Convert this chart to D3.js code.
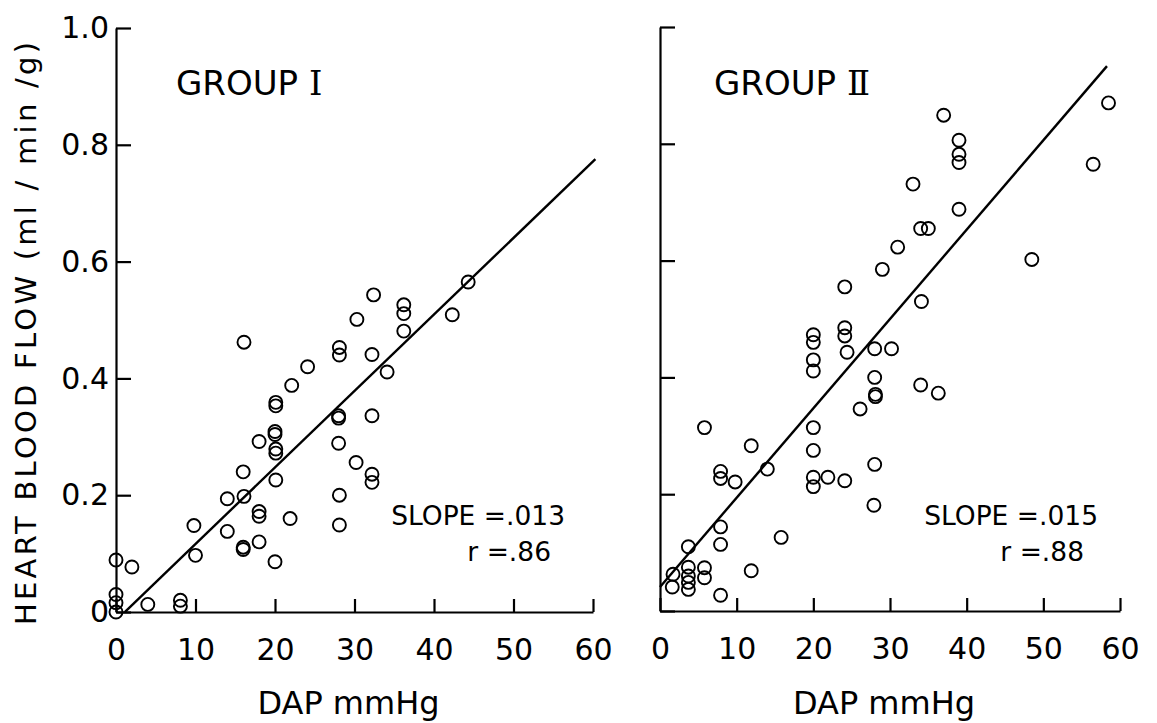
<!DOCTYPE html>
<html>
<head>
<meta charset="utf-8">
<script src="https://cdn.jsdelivr.net/npm/d3@7"></script>
<style>
  body { margin: 0; background: #fff; }
  svg { display: block; }
  text { font-family: 'DejaVu Sans', sans-serif; fill: #000; }
</style>
</head>
<body>
<div id="chart"></div>
<script>
// tick values / labels
let xTicks = [0, 10, 20, 30, 40, 50, 60]
let yTicks = [0, 0.2, 0.4, 0.6, 0.8, 1.0]
let yTickLabels = ['0', '0.2', '0.4', '0.6', '0.8', '1.0']

// group I: DAP (mmHg) vs heart blood flow (ml/min/g)
let dapI = [44.3, 32.4, 36.2, 36.2, 42.3, 30.3, 36.2, 16.1, 28.1, 28.1, 32.2, 24.1, 34.1,
  22.1, 20.1, 20.1, 28.0, 28.0, 32.2, 20.0, 20.0, 18.0, 28.0, 20.1, 20.1, 30.2, 16.0,
  32.2, 32.2, 20.1, 28.1, 16.1, 14.0, 18.0, 18.0, 21.9, 9.8, 28.1, 14.0, 18.0, 10.0,
  16.0, 16.0, 20.0, 0, 2.0, 0, 0, 0, 4.0, 8.1, 8.1]
let flowI = [0.565, 0.543, 0.526, 0.511, 0.509, 0.501, 0.481, 0.462, 0.453, 0.440, 0.441,
  0.420, 0.411, 0.388, 0.359, 0.353, 0.336, 0.332, 0.336, 0.309, 0.304, 0.292, 0.289,
  0.279, 0.272, 0.256, 0.240, 0.236, 0.222, 0.226, 0.200, 0.198, 0.194, 0.172, 0.164,
  0.160, 0.148, 0.149, 0.138, 0.120, 0.097, 0.111, 0.107, 0.086, 0.089, 0.077, 0.030,
  0.016, 0.0, 0.013, 0.020, 0.010]

// group II
let dapII = [58.5, 56.5, 37, 39, 39, 39, 33, 39, 34, 35, 31, 29, 48.5,
  24.1, 34.1, 24.1, 24.1, 24.4, 20.0, 20.0, 20.0, 20.0, 28.0, 30.2, 28.0, 28.1, 28.1,
  34.0, 36.3, 26.1, 5.8, 20.0, 11.9, 20.0, 14.0, 28.0, 7.9, 7.9, 9.8, 20.0, 20.0, 21.9,
  24.1, 27.9, 7.9, 15.8, 7.9, 3.7, 3.7, 5.8, 5.8, 1.7, 1.6, 3.7, 3.7, 3.7, 11.9, 7.9]
let flowII = [0.870, 0.765, 0.849, 0.806, 0.782, 0.768, 0.731, 0.688, 0.655, 0.655, 0.623,
  0.585, 0.602, 0.555, 0.530, 0.485, 0.471, 0.443, 0.473, 0.460, 0.430, 0.411, 0.449,
  0.449, 0.400, 0.371, 0.367, 0.387, 0.373, 0.346, 0.314, 0.314, 0.283, 0.275, 0.243,
  0.251, 0.239, 0.227, 0.221, 0.229, 0.213, 0.229, 0.223, 0.181, 0.144, 0.126, 0.114,
  0.110, 0.075, 0.074, 0.057, 0.063, 0.041, 0.060, 0.049, 0.037, 0.069, 0.027]

// regression lines: [slope, intercept, x start, x end]
let fitI = [0.0131, -0.0145, 1.1, 60.3]
let fitII = [0.0153, 0.041, 0, 58.3]

let svg = d3.select('#chart')
  .append('svg')
  .attr('width', 1157)
  .attr('height', 723)

function drawPanel(opts) {
  let x = d3.scaleLinear().domain([0, 60]).range(opts.xRange)
  let y = d3.scaleLinear().domain([0, 1]).range(opts.yRange)
  let g = svg.append('g')

  // y axis, ticks point inward
  let yAxis = d3.axisLeft(y)
    .tickValues(yTicks)
    .tickSizeInner(-15)
    .tickSizeOuter(0)
    .tickPadding(7)
    .tickFormat(function (d, i) { return opts.yLabels ? yTickLabels[i] : '' })
  let ya = g.append('g')
    .attr('transform', 'translate(' + opts.xRange[0] + ',0)')
    .call(yAxis)
  ya.selectAll('text').style('font-size', '30px').style('font-family', 'DejaVu Sans')

  // x axis
  let xAxis = d3.axisBottom(x)
    .tickValues(xTicks)
    .tickSizeInner(-13)
    .tickSizeOuter(0)
    .tickPadding(27)
  let xa = g.append('g')
    .attr('transform', 'translate(0,' + opts.yRange[0] + ')')
    .call(xAxis)
  xa.selectAll('text').style('font-size', '30px').style('font-family', 'DejaVu Sans')

  g.selectAll('.domain, .tick line')
    .attr('stroke', '#000')
    .attr('stroke-width', 2.2)

  // fitted line
  let fit = opts.fit
  let linePts = [fit[2], fit[3]].map(function (v) { return [v, fit[0] * v + fit[1]] })
  g.append('path')
    .attr('d', d3.line().x(function (d) { return x(d[0]) }).y(function (d) { return y(d[1]) })(linePts))
    .attr('fill', 'none')
    .attr('stroke', '#000')
    .attr('stroke-width', 2.4)

  // points
  g.selectAll('.pt')
    .data(opts.xs)
    .enter()
    .append('circle')
    .attr('class', 'pt')
    .attr('cx', function (d) { return x(d) })
    .attr('cy', function (d, i) { return y(opts.ys[i]) })
    .attr('r', 6.5)
    .attr('fill', 'none')
    .attr('stroke', '#000')
    .attr('stroke-width', 1.9)

  // group title
  let t = g.append('text')
    .attr('x', opts.titleX)
    .attr('y', 95)
    .style('font-size', '34px')
  t.append('tspan').text('GROUP ')
  t.append('tspan').style('font-family', 'DejaVu Serif').text(opts.roman)

  // stats
  g.append('text')
    .attr('x', opts.statX)
    .attr('y', 525)
    .attr('text-anchor', 'end')
    .style('font-size', '26.5px')
    .text(opts.slopeText)
  g.append('text')
    .attr('x', opts.statX - 14)
    .attr('y', 561)
    .attr('text-anchor', 'end')
    .style('font-size', '26.5px')
    .text(opts.rText)

  // x label
  g.append('text')
    .attr('x', (opts.xRange[0] + opts.xRange[1]) / 2 - 6)
    .attr('y', 714)
    .attr('text-anchor', 'middle')
    .style('font-size', '32px')
    .text('DAP mmHg')
}

drawPanel({
  xRange: [116, 593], yRange: [612, 28], yLabels: true,
  xs: dapI, ys: flowI, fit: fitI,
  titleX: 176, roman: 'I', statX: 565,
  slopeText: 'SLOPE =.013', rText: 'r =.86'
})

drawPanel({
  xRange: [660, 1120], yRange: [611, 27], yLabels: false,
  xs: dapII, ys: flowII, fit: fitII,
  titleX: 714, roman: 'Ⅱ', statX: 1098,
  slopeText: 'SLOPE =.015', rText: 'r =.88'
})

// shared y label
svg.append('text')
  .attr('transform', 'translate(36,625) rotate(-90)')
  .attr('textLength', 583)
  .attr('lengthAdjust', 'spacing')
  .style('font-size', '29px')
  .text('HEART BLOOD FLOW  (ml / min /g)')
</script>
</body>
</html>
